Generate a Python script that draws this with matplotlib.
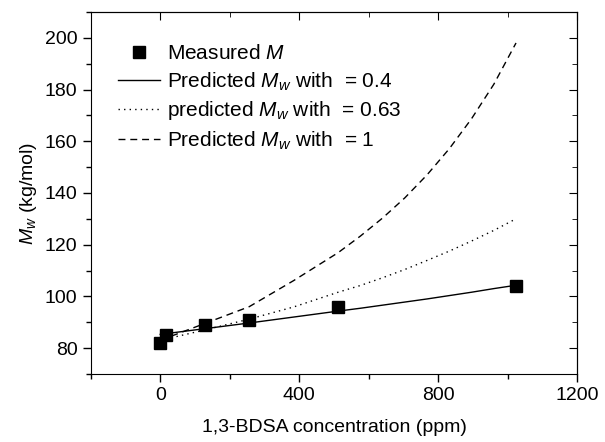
import matplotlib
matplotlib.use("Agg")
import matplotlib.pyplot as plt
from matplotlib.ticker import MultipleLocator

plt.rcParams["font.family"] = ["Liberation Sans", "DejaVu Sans"]
plt.rcParams["mathtext.fontset"] = "custom"
plt.rcParams["mathtext.it"] = "Liberation Sans:italic"
plt.rcParams["mathtext.rm"] = "Liberation Sans"

# measured points
conc_measured = [0, 16, 128, 256, 512, 1024]
mw_measured = [82, 85, 89, 91, 96, 104]

# predicted curves
conc_pred = [0, 128, 256, 384, 512, 576, 640, 704, 768, 832, 896, 960, 1024]
mw_pred_04 = [85.3, 87.5, 89.7, 92.0, 94.3, 95.4, 96.6, 97.8, 99.0, 100.3,
              101.6, 103.0, 104.3]
mw_pred_063 = [83.0, 87.0, 91.2, 95.9, 101.6, 104.2, 107.2, 110.4, 113.9,
               117.5, 121.4, 125.5, 130.0]
mw_pred_1 = [83.0, 89.5, 96.0, 106.1, 116.9, 123.3, 130.3, 138.1, 147.0,
             157.1, 168.7, 182.0, 198.0]

fig = plt.figure(figsize=(6.05, 4.42), dpi=100)
ax = fig.add_axes([0.150, 0.154, 0.804, 0.819])

ax.plot(conc_measured, mw_measured, linestyle="none", marker="s",
        markersize=8.5, color="black", label="Measured $M$")
ax.plot(conc_pred, mw_pred_04, "-", color="black", lw=1.0,
        label="Predicted $M_w$ with  = 0.4")
ax.plot(conc_pred, mw_pred_063, color="black", lw=1.0, linestyle=(0, (1, 3)),
        label="predicted $M_w$ with  = 0.63")
ax.plot(conc_pred, mw_pred_1, color="black", lw=1.0, linestyle=(0, (5, 3.5)),
        label="Predicted $M_w$ with  = 1")

ax.set_xlim(-200, 1200)
ax.set_ylim(70, 210)
ax.xaxis.set_major_locator(MultipleLocator(400))
ax.xaxis.set_minor_locator(MultipleLocator(200))
ax.yaxis.set_major_locator(MultipleLocator(20))
ax.yaxis.set_minor_locator(MultipleLocator(10))
ax.set_yticks([80, 100, 120, 140, 160, 180, 200])

ax.tick_params(which="both", direction="out", top=False, right=False,
               labelsize=14, width=1)
ax.tick_params(which="major", length=6)
ax.tick_params(which="minor", length=3.5)

# inward ticks on top and right
sec_x = ax.secondary_xaxis("top")
sec_x.xaxis.set_major_locator(MultipleLocator(400))
sec_x.xaxis.set_minor_locator(MultipleLocator(200))
sec_x.tick_params(which="both", direction="in", labeltop=False)
sec_x.tick_params(which="major", length=6)
sec_x.tick_params(which="minor", length=3.5)
sec_y = ax.secondary_yaxis("right")
sec_y.yaxis.set_major_locator(MultipleLocator(20))
sec_y.yaxis.set_minor_locator(MultipleLocator(10))
sec_y.tick_params(which="both", direction="in", labelright=False)
sec_y.tick_params(which="major", length=6)
sec_y.tick_params(which="minor", length=3.5)

ax.set_xlabel("1,3-BDSA concentration (ppm)", fontsize=14, labelpad=11)
ax.set_ylabel("$M_w$ (kg/mol)", fontsize=14, labelpad=4)

ax.legend(loc="upper left", bbox_to_anchor=(0.03, 0.945), frameon=False,
          fontsize=15, handlelength=2.0, handletextpad=0.35,
          labelspacing=0.33, borderaxespad=0.2)

fig.savefig("out.png", dpi=100)
